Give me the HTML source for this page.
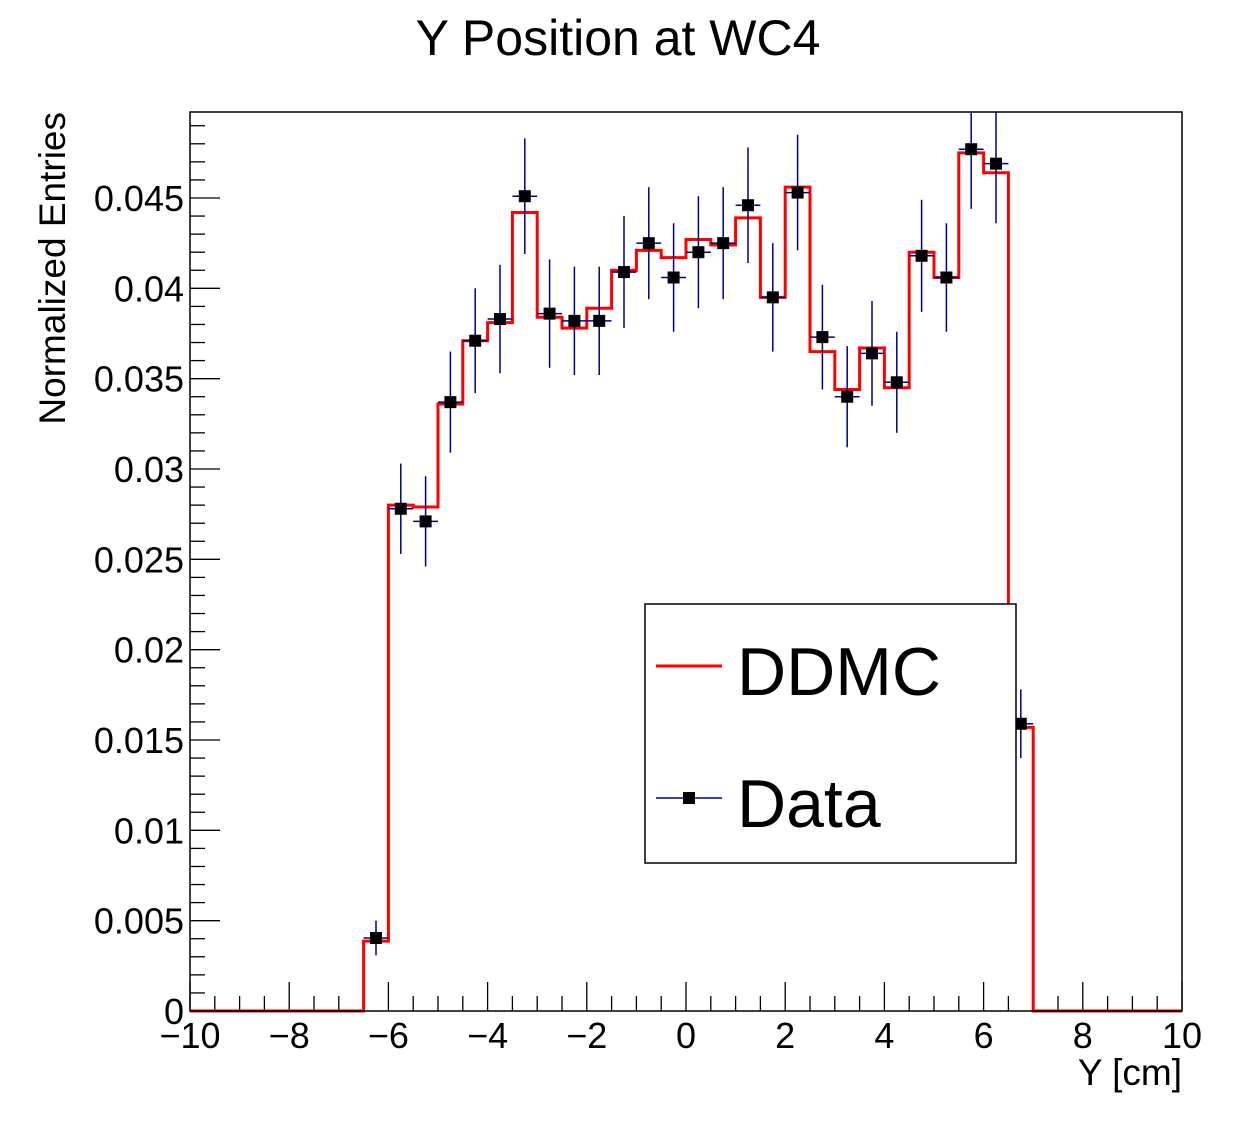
<!DOCTYPE html>
<html><head><meta charset="utf-8"><style>
html,body{margin:0;padding:0;background:#fff;}
svg{display:block;font-family:"Liberation Sans",sans-serif;}
</style></head><body>
<svg id="c" width="1239" height="1125" viewBox="0 0 1239 1125">
<text x="618" y="55" font-size="50" text-anchor="middle">Y Position at WC4</text>
<text transform="translate(65,112) rotate(-90)" font-size="37" text-anchor="end">Normalized Entries</text>
<text x="1182" y="1085" font-size="37" text-anchor="end">Y [cm]</text>
<g id="ticks"></g>
<g id="mc"></g>
<g id="data"></g>
<rect x="190" y="112" width="992" height="899" fill="none" stroke="#000" stroke-width="1.5"/>
<g>
<rect x="645" y="604" width="371" height="259" fill="#fff" stroke="#000" stroke-width="1.5"/>
<line x1="656" y1="666" x2="722" y2="666" stroke="#f00" stroke-width="3"/>
<text x="737" y="695" font-size="68">DDMC</text>
<line x1="656" y1="798" x2="722" y2="798" stroke="#00008b" stroke-width="1.5"/>
<rect x="683" y="792" width="12" height="12" fill="#000"/>
<text x="737" y="827" font-size="68">Data</text>
</g>
</svg>
<script>
const binLow = [-6.5,-6,-5.5,-5,-4.5,-4,-3.5,-3,-2.5,-2,-1.5,-1,-0.5,0,0.5,1,1.5,2,2.5,3,3.5,4,4.5,5,5.5,6,6.5];
const dataVals = [0.00404,0.0278,0.0271,0.0337,0.0371,0.0383,0.0451,0.0386,0.0382,0.0382,0.0409,0.0425,0.0406,0.0420,0.0425,0.0446,0.0395,0.0453,0.0373,0.0340,0.0364,0.0348,0.0418,0.0406,0.0477,0.0469,0.0159];
const dataErr = [0.00096,0.0025,0.0025,0.0028,0.0029,0.0030,0.0032,0.0030,0.0030,0.0030,0.0031,0.0031,0.0030,0.0031,0.0031,0.0032,0.0030,0.0032,0.0029,0.0028,0.0029,0.0028,0.0031,0.0030,0.0033,0.0033,0.0019];
const mcVals = [0.00387,0.0280,0.0279,0.0336,0.0371,0.0381,0.0442,0.0384,0.0378,0.0389,0.0410,0.0421,0.0417,0.0427,0.0424,0.0439,0.0395,0.0456,0.0365,0.0344,0.0367,0.0345,0.0420,0.0406,0.0475,0.0464,0.0157];
const xTickLabels = ["\u221210","\u22128","\u22126","\u22124","\u22122","0","2","4","6","8","10"];
const yTickLabels = ["0","0.005","0.01","0.015","0.02","0.025","0.03","0.035","0.04","0.045"];
const binW = 0.5;
const X0=190,X1=1182,Y0=1011,Y1=112,xmin=-10,xmax=10,ymax=0.04976;
const sx=v=>X0+(v-xmin)/(xmax-xmin)*(X1-X0);
const sy=v=>Y0-v/ymax*(Y0-Y1);
const NS="http://www.w3.org/2000/svg";
function mk(tag,attrs,parent){const e=document.createElementNS(NS,tag);for(const k in attrs)e.setAttribute(k,attrs[k]);parent.appendChild(e);return e;}
const tg=document.getElementById('ticks');
for(let i=0;i<=40;i++){const v=xmin+i*0.5;const major=i%4===0;
 const l=mk('line',{x1:sx(v),x2:sx(v),y1:Y0,y2:Y0-(major?29:15),stroke:'#000','stroke-width':1.3},tg);
 
 }
xTickLabels.forEach((t,i)=>{const e=mk('text',{x:sx(xmin+i*2),y:1048,'font-size':36,'text-anchor':'middle'},tg);e.textContent=t;
 
 });
for(let i=0;i*0.001<=ymax;i++){const v=i*0.001;const major=i%5===0;
 const l=mk('line',{x1:X0,x2:X0+(major?30:15),y1:sy(v),y2:sy(v),stroke:'#000','stroke-width':1.3},tg);
 
 }
yTickLabels.forEach((t,i)=>{const e=mk('text',{x:184,y:sy(i*0.005)+13,'font-size':36,'text-anchor':'end'},tg);e.textContent=t;
 
 });
let d='M'+X0+','+Y0+' L'+sx(binLow[0])+','+Y0;
mcVals.forEach((v,i)=>{d+=' L'+sx(binLow[i])+','+sy(v)+' L'+sx(binLow[i]+binW)+','+sy(v);});
d+=' L'+sx(binLow[binLow.length-1]+binW)+','+Y0+' L'+X1+','+Y0;
const p=mk('path',{d:d,fill:'none',stroke:'#f00','stroke-width':3},document.getElementById('mc'));


const dg=document.getElementById('data');
dataVals.forEach((v,i)=>{const cx=sx(binLow[i]+binW/2),cy=sy(v);
 const top=Math.max(sy(v+dataErr[i]),Y1);
 const ev=mk('line',{x1:cx,x2:cx,y1:top,y2:sy(v-dataErr[i]),stroke:'#00008b','stroke-width':1.5},dg);
 
 
 const eh=mk('line',{x1:sx(binLow[i]),x2:sx(binLow[i]+binW),y1:cy,y2:cy,stroke:'#00008b','stroke-width':1.5},dg);
 
 
 const r=mk('rect',{x:cx-6,y:cy-6,width:12,height:12,fill:'#000'},dg);
 
 });
</script>
</body></html>
